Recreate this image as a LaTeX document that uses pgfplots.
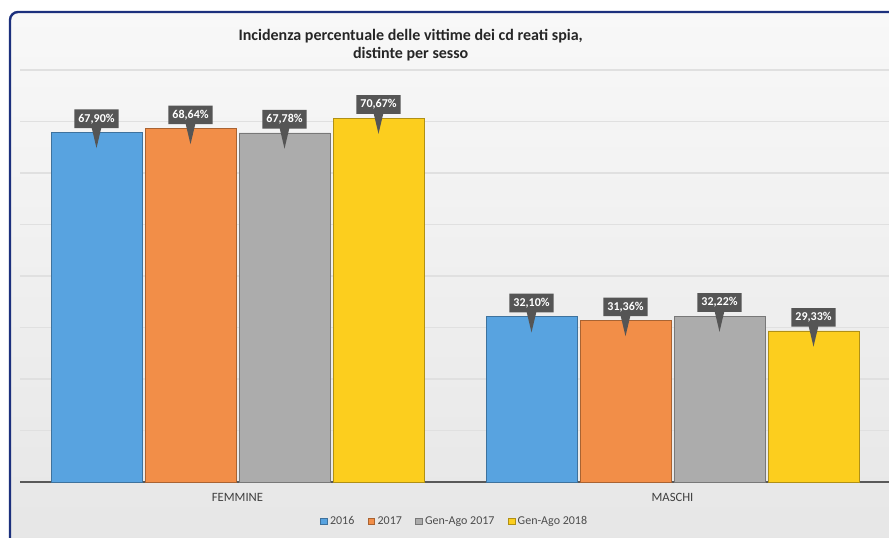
\documentclass[border=0pt]{standalone}
\usepackage{pgfplots}
\pgfplotsset{compat=1.18}
\usetikzlibrary{shapes.callouts}
\usepackage{fontspec}
\setmainfont{Carlito}
\definecolor{cblue}{RGB}{88,163,224}
\definecolor{corange}{RGB}{242,142,72}
\definecolor{cgray}{RGB}{172,172,172}
\definecolor{cyellow}{RGB}{252,206,30}
\definecolor{frameblue}{RGB}{28,48,125}
\definecolor{lblbox}{RGB}{85,85,85}
\definecolor{bgtop}{RGB}{248,248,248}
\definecolor{bgbot}{RGB}{230,230,230}
\begin{document}
\begin{tikzpicture}
\clip (0pt,0pt) rectangle (666.75pt,403.5pt);
\fill[white] (0pt,0pt) rectangle (666.75pt,403.5pt);
\shade[top color=bgtop, bottom color=bgbot, rounded corners=6pt] (7.5pt,-10pt) rectangle (680pt,394.5pt);
\draw[line width=1.8pt, frameblue, rounded corners=6pt] (7.5pt,-10pt) rectangle (680pt,394.5pt);
\node[font=\fontsize{12}{13.5}\selectfont\bfseries, text=black!85, align=center] at (308pt,370pt) {Incidenza percentuale delle vittime dei cd reati spia,\\distinte per sesso};
\begin{axis}[
  at={(15pt,42pt)}, anchor=south west,
  scale only axis, width=652.5pt, height=309pt,
  xmin=-0.5, xmax=1.5, ymin=0, ymax=80,
  ybar=2.25pt, bar width=68.25pt,
  xtick={0,1}, xticklabels={FEMMINE,MASCHI},
  xtick style={draw=none},
  ytick={10,20,...,80}, yticklabels={},
  ytick style={draw=none},
  ymajorgrids, grid style={line width=0.8pt, black!12},
  axis x line*=bottom,
  axis y line*=left,
  x axis line style={draw=black!65, line width=1.5pt},
  y axis line style={draw=none},
  ticklabel style={font=\fontsize{9.5}{10.5}\selectfont, text=black!75},
  xticklabel style={yshift=-1pt},
  /pgf/number format/assume math mode=true,
  nodes near coords={\pgfmathprintnumber[fixed,fixed zerofill,precision=2,use comma,assume math mode=true]{\pgfplotspointmeta}\%},
  every node near coord/.append style={rectangle callout, fill=lblbox, text=white,
     font=\fontsize{9}{10}\selectfont\bfseries, anchor=south, yshift=3pt,
     inner xsep=3pt, inner ysep=2.5pt, minimum height=14pt, callout relative pointer={(0pt,-15pt)}},
  legend style={at={(0.5,-0.095)}, anchor=center, draw=none, fill=none,
     legend columns=4, font=\fontsize{9}{10}\selectfont, text=black!70,
     /tikz/every even column/.append style={column sep=8pt}},
  legend image code/.code={\fill[#1] (0pt,-2.5pt) rectangle (5pt,2.5pt);},
  clip=false,
]
\addplot[fill=cblue, draw=cblue!70!black] coordinates {(0,67.90) (1,32.10)};
\addplot[fill=corange, draw=corange!70!black] coordinates {(0,68.64) (1,31.36)};
\addplot[fill=cgray, draw=cgray!70!black] coordinates {(0,67.78) (1,32.22)};
\addplot[fill=cyellow, draw=cyellow!70!black] coordinates {(0,70.67) (1,29.33)};
\legend{2016,2017,Gen-Ago 2017,Gen-Ago 2018}
\end{axis}
\end{tikzpicture}
\end{document}
